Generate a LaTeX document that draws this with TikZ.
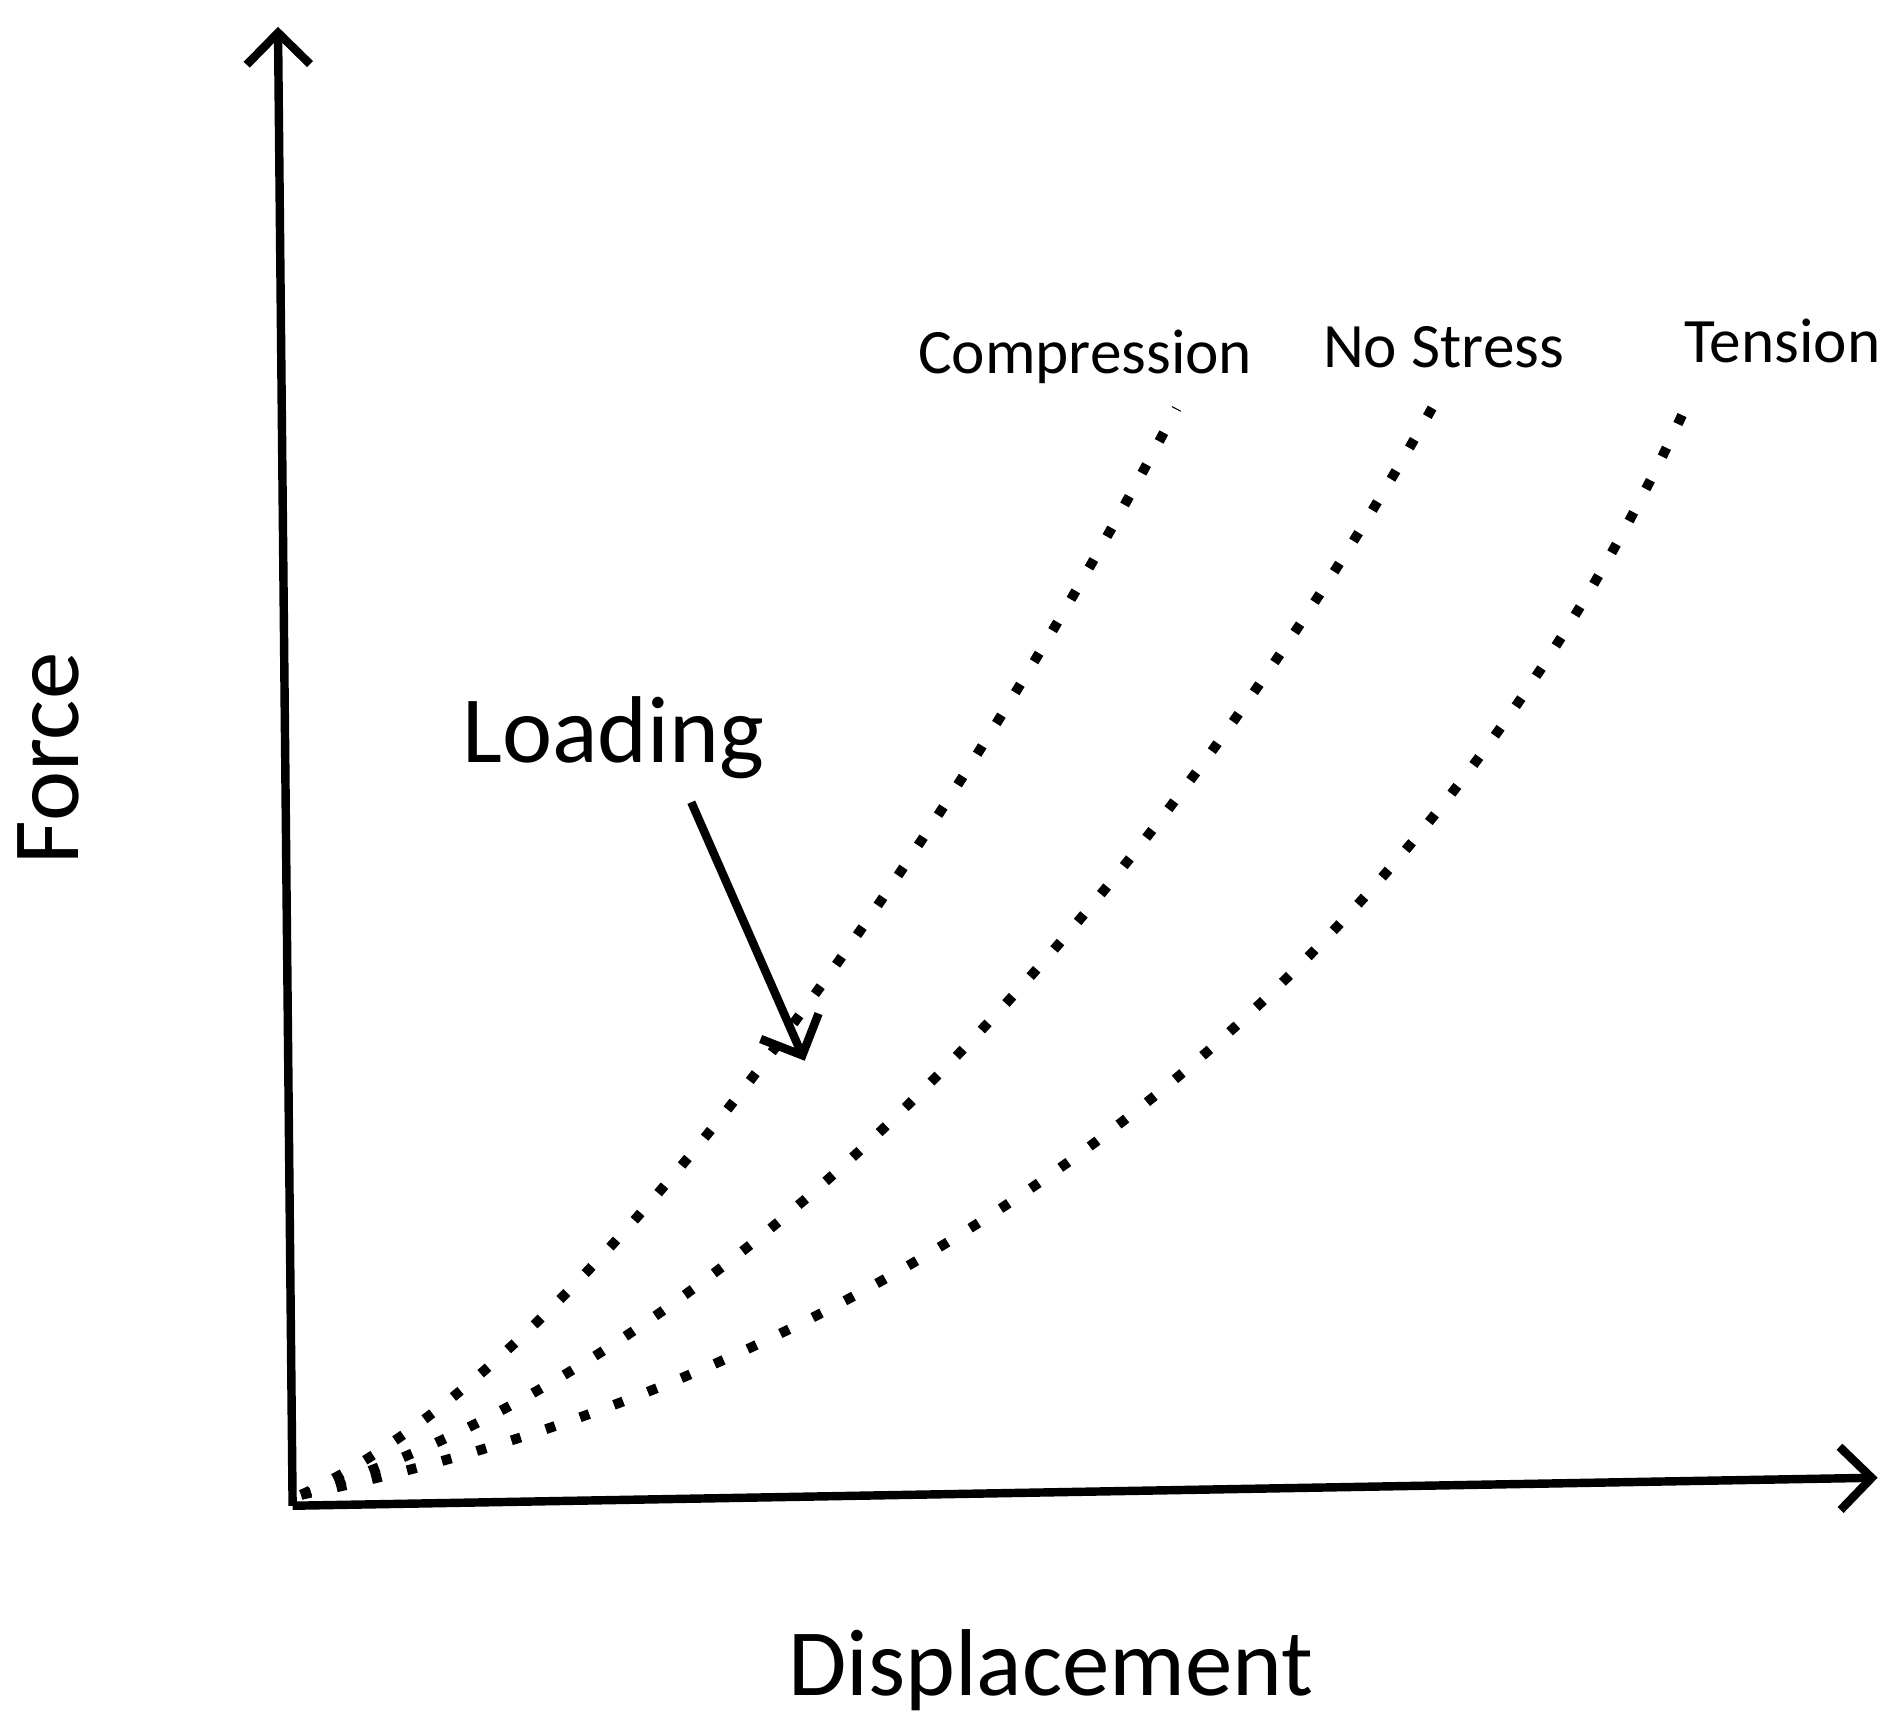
\documentclass[tikz,border=0pt]{standalone}
\usepackage{fontspec}
\setmainfont{Carlito}
\usetikzlibrary{arrows.meta}
\begin{document}
\begin{tikzpicture}[x=0.01219cm,y=-0.01219cm,
  axis/.style={line width=2.4pt,-{Straight Barb[length=9pt,width=18pt,line width=2.4pt]}},
  curve/.style={line width=2.8pt,dash pattern=on 2.8pt off 7.5pt},
  big/.style={font=\fontsize{27}{30}\selectfont},
  lab/.style={font=\fontsize{18}{20}\selectfont}]
\useasboundingbox (0,0) rectangle (1560,1414);
\coordinate (O) at (240,1235);
\coordinate (Y) at (228,22);
\coordinate (X) at (1540,1212);
\draw[axis] (O) -- (Y);
\draw[axis] (O) -- (X);
\coordinate (S) at (247,1226);
\coordinate (C) at (965,335);
\coordinate (N) at (1180,325);
\coordinate (T) at (1388,322);
\draw[curve] (S) .. controls (500,1110) and (800,650) .. (C);
\draw[curve] (S) .. controls (620,1110) and (960,720) .. (N);
\draw[curve] (S) .. controls (720,1130) and (1160,830) .. (T);
\node[lab] (lc) at (890,293) {Compression};
\node[lab] (ln) at (1184,285) {No Stress};
\node[lab] (lt) at (1462,280) {Tension};
\node[big] (ld) at (503,605) {Loading};
\coordinate (a1) at (567,658);
\coordinate (a2) at (660,870);
\draw[line width=2.4pt,-{Straight Barb[length=9pt,width=18pt,line width=2.4pt]}] (a1) -- (a2);
\node[big] (dx) at (862,1370) {Displacement};
\node[big,rotate=90] (fy) at (40,622) {Force};
\end{tikzpicture}
\end{document}
